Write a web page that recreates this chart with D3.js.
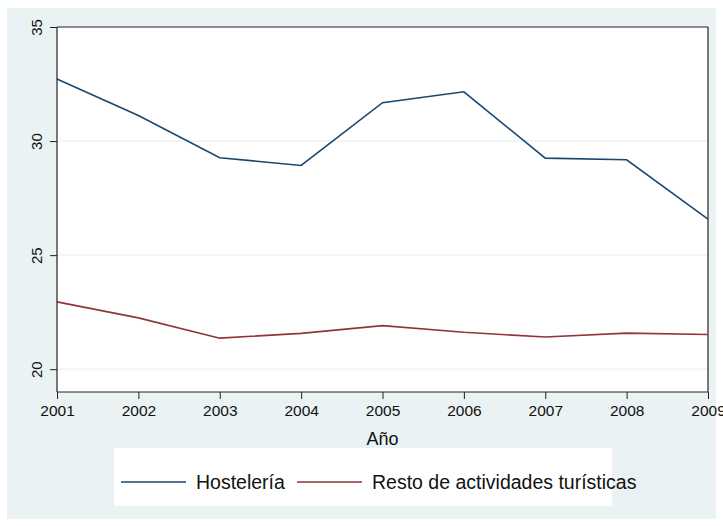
<!DOCTYPE html>
<html><head><meta charset="utf-8">
<script src="https://cdn.jsdelivr.net/npm/d3@7"></script>
<style>body{margin:0;background:#fff}svg{display:block}</style>
</head><body>
<script>
const years = [2001,2002,2003,2004,2005,2006,2007,2008,2009];
const hosteleria = [32.72,31.12,29.27,28.93,31.68,32.16,29.25,29.18,26.58];
const resto = [22.95,22.25,21.36,21.57,21.91,21.62,21.41,21.58,21.52];
const yTicks = [20,25,30,35];
const seriesNames = ["Hostelería","Resto de actividades turísticas"];
const colors = ["#1a476f","#90353b"];

const W=723,H=526;
const FF="Liberation Sans, Arial, sans-serif";
const svg=d3.select("body").append("svg").attr("width",W).attr("height",H);
svg.append("rect").attr("x",7).attr("y",8).attr("width",709).attr("height",511).attr("fill","#eaf2f3");

const L=57,R=708,T=27,B=392;
const x=d3.scaleLinear().domain([2001,2009]).range([L,R]);
const y=d3.scaleLinear().domain([19,35]).range([B,T]);

svg.append("rect").attr("x",L).attr("y",T).attr("width",R-L).attr("height",B-T).attr("fill","#fff");
svg.append("g").selectAll("line").data(yTicks.filter(d=>d<35)).join("line")
  .attr("x1",L).attr("x2",R).attr("y1",d=>y(d)).attr("y2",d=>y(d))
  .attr("stroke","#eaf2f3").attr("stroke-width",1.2);
svg.append("line").attr("x1",L).attr("x2",R).attr("y1",T).attr("y2",T).attr("stroke","#222").attr("stroke-width",1.2);
svg.append("line").attr("x1",R).attr("x2",R).attr("y1",T).attr("y2",B).attr("stroke","#222").attr("stroke-width",1.2);

const line=d3.line().x((d,i)=>x(years[i])).y(d=>y(d));
[hosteleria,resto].forEach((s,k)=>{
  svg.append("path").datum(s).attr("d",line).attr("fill","none").attr("stroke",colors[k]).attr("stroke-width",1.6);
});

const ya=svg.append("g").attr("transform",`translate(${L},0)`)
  .call(d3.axisLeft(y).tickValues(yTicks).tickSize(7).tickFormat(d3.format("d")));
ya.select(".domain").attr("stroke","#222").attr("stroke-width",1.2).attr("d",`M0,${B}V${T}`);
ya.selectAll(".tick line").attr("stroke","#222");
ya.selectAll(".tick text").attr("font-family",FF).attr("font-size",15).attr("fill","#111")
  .attr("x",0).attr("dy",0).attr("text-anchor","middle")
  .attr("transform","translate(-15,0) rotate(-90)");

const xa=svg.append("g").attr("transform",`translate(0,${B})`)
  .call(d3.axisBottom(x).tickValues(years).tickSize(7).tickFormat(d3.format("d")));
xa.select(".domain").attr("stroke","#222").attr("stroke-width",1.2).attr("d",`M${L},0H${R}`);
xa.selectAll(".tick line").attr("stroke","#222");
xa.selectAll(".tick text").attr("font-family",FF).attr("font-size",15.5).attr("fill","#111").attr("dy","0.9em");

svg.append("text").attr("x",(L+R)/2).attr("y",445).attr("text-anchor","middle")
  .attr("font-family",FF).attr("font-size",18).attr("fill","#111").text("Año");

const lg=svg.append("g");
lg.append("rect").attr("x",114).attr("y",448).attr("width",498).attr("height",58).attr("fill","#fff");
const lx=[121,297];
seriesNames.forEach((n,k)=>{
  lg.append("line").attr("x1",lx[k]).attr("x2",lx[k]+65).attr("y1",482).attr("y2",482).attr("stroke",colors[k]).attr("stroke-width",1.6);
  lg.append("text").attr("x",lx[k]+75).attr("y",489).attr("font-family",FF).attr("font-size",19.5).attr("fill","#111").text(n);
});
</script>
</body></html>
